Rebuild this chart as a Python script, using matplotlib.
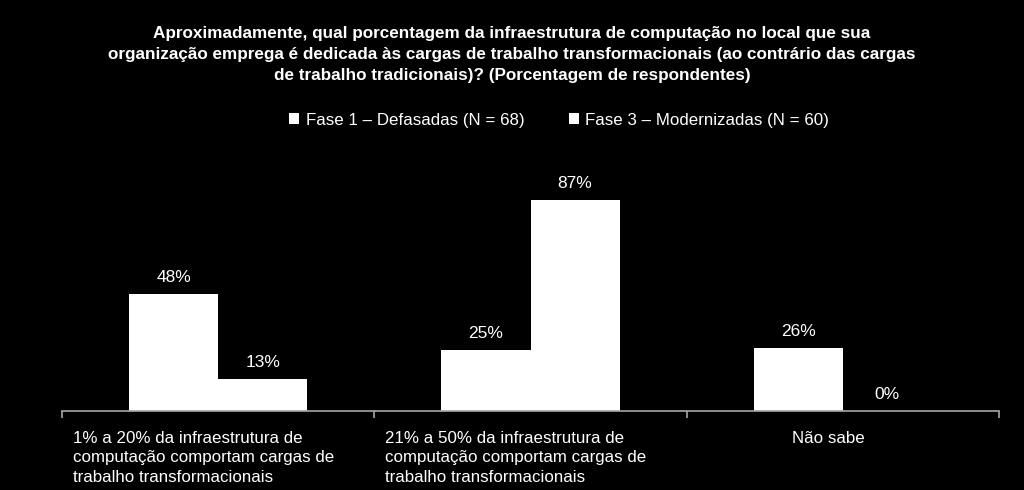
import matplotlib
matplotlib.use("Agg")
import matplotlib.pyplot as plt
from matplotlib.patches import Patch

categories = [
    "1% a 20% da infraestrutura de\ncomputação comportam cargas de\ntrabalho transformacionais",
    "21% a 50% da infraestrutura de\ncomputação comportam cargas de\ntrabalho transformacionais",
    "Não sabe",
]
series_names = ["Fase 1 – Defasadas (N = 68)", "Fase 3 – Modernizadas (N = 60)"]
fase1 = [48, 25, 26]
fase3 = [13, 87, 0]
title = ("Aproximadamente, qual porcentagem da infraestrutura de computação no local que sua\n"
         "organização emprega é dedicada às cargas de trabalho transformacionais (ao contrário das cargas\n"
         "de trabalho tradicionais)? (Porcentagem de respondentes)")

plt.rcParams['font.family'] = ['Liberation Sans', 'DejaVu Sans']

fig = plt.figure(figsize=(10.24, 4.9), dpi=100, facecolor='black')
ax = fig.add_axes([62/1024, (490-411)/490, (999-62)/1024, 243/490])
ax.set_facecolor('black')

w = 0.285
x = list(range(len(categories)))
b1 = ax.bar([i - w/2 for i in x], fase1, width=w, color='white', edgecolor='none')
b2 = ax.bar([i + w/2 for i in x], fase3, width=w, color='white', edgecolor='none')

for bars, vals in ((b1, fase1), (b2, fase3)):
    for r, v in zip(bars, vals):
        ax.annotate(f"{v}%", (r.get_x() + r.get_width()/2, r.get_height()),
                    xytext=(0, 6.5), textcoords='offset points',
                    ha='center', va='bottom', color='white', fontsize=12.5)

ax.set_xlim(-0.5, 2.5)
ax.set_ylim(0, 100)
for s in ('top', 'right', 'left'):
    ax.spines[s].set_visible(False)
ax.spines['bottom'].set_color('#a6a6a6')
ax.spines['bottom'].set_linewidth(1.2)
ax.set_yticks([])
ax.set_xticks([-0.5, 0.5, 1.5, 2.5])
ax.set_xticklabels([])
ax.tick_params(axis='x', direction='out', length=5, color='#a6a6a6', width=1.2)

# category labels
offsets = [(-0.5 + 0.035, 'left'), (0.5 + 0.035, 'left'), (2 - 0.046, 'center')]
for lab, (xp, ha) in zip(categories, offsets):
    ax.text(xp, -0.083, lab, transform=ax.get_xaxis_transform(), ha=ha, va='top',
            color='white', fontsize=12.2, linespacing=1.35)

fig.text(0.5, 0.947, title, ha='center', va='top', color='white', fontsize=12.3,
         fontweight='bold', linespacing=1.5)

handles = [Patch(facecolor='white', edgecolor='none') for _ in series_names]
leg = fig.legend(handles, series_names, loc='center', bbox_to_anchor=(0.546, 1 - 120/490),
                 ncol=2, frameon=False, handlelength=0.6, handleheight=0.6,
                 handletextpad=0.4, columnspacing=2.6,
                 prop={'size': 12.2})
for t in leg.get_texts():
    t.set_color('white')

fig.savefig('out.png', dpi=100, facecolor='black')
